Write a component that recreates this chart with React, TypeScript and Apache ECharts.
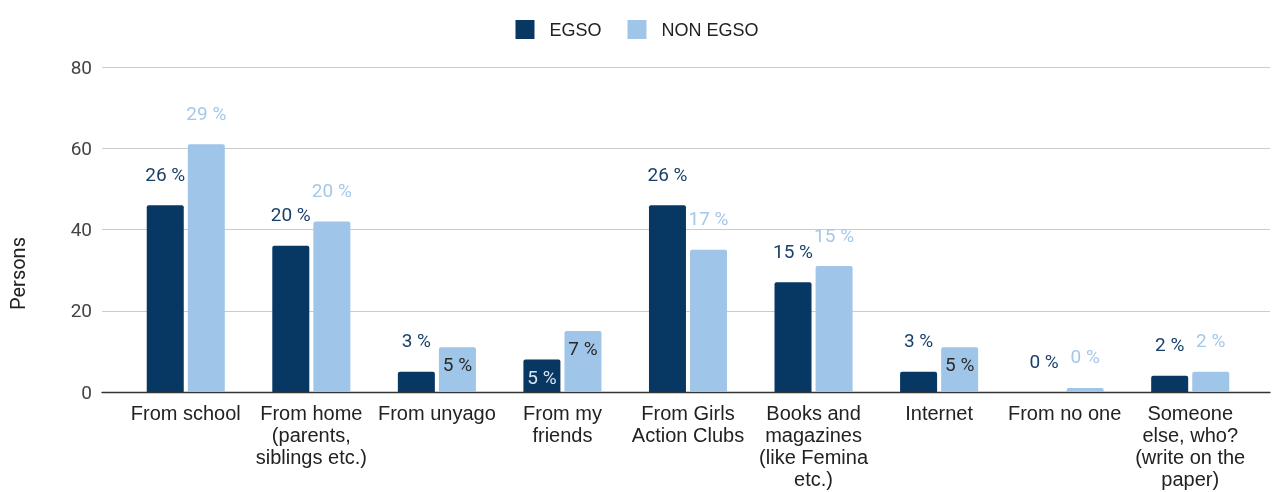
import React, { useEffect, useRef } from "react";
import * as echarts from "echarts";

const categories = [
  "From school",
  "From home\n(parents,\nsiblings etc.)",
  "From unyago",
  "From my\nfriends",
  "From Girls\nAction Clubs",
  "Books and\nmagazines\n(like Femina\netc.)",
  "Internet",
  "From no one",
  "Someone\nelse, who?\n(write on the\npaper)",
];
const egsoValues = [46, 36, 5, 8, 46, 27, 5, 0, 4];
const nonEgsoValues = [61, 42, 11, 15, 35, 31, 11, 1, 5];
const egsoLabels = ["26 %", "20 %", "3 %", "5 %", "26 %", "15 %", "3 %", "0 %", "2 %"];
const nonEgsoLabels = ["29 %", "20 %", "5 %", "7 %", "17 %", "15 %", "5 %", "0 %", "2 %"];
const yTicks = { min: 0, max: 80, interval: 20 };

// label placement (Google-style collision handling)
const egsoInside = [3];
const nonEgsoInside = [2, 3, 6];

const DARK = "#073763";
const LIGHT = "#9fc5e8";

function buildData(values: number[], labels: string[], inside: number[], dark: boolean) {
  return values.map((v, i) => {
    const isIn = inside.includes(i);
    return {
      value: v,
      label: {
        show: true,
        formatter: labels[i],
        position: isIn ? "insideTop" : "top",
        distance: isIn ? 8 : 21.5,
        color: isIn ? (dark ? "#dde5ee" : "#2a2a2a") : dark ? "#17406a" : "#a4c8ea",
        fontFamily: "Roboto",
        fontSize: 19,
      },
    };
  });
}

export default function App() {
  const ref = useRef<HTMLDivElement>(null);
  useEffect(() => {
    if (!ref.current) return;
    const chart = echarts.init(ref.current, null, { renderer: "svg" });
    chart.setOption({
      animation: false,
      legend: {
        top: 15,
        left: "center",
        itemWidth: 19,
        itemHeight: 19,
        itemGap: 26,
        icon: "rect",
        textStyle: {
          fontFamily: "Liberation Sans, Arial",
          fontSize: 18,
          color: "#222",
          padding: [0, 0, 0, 10],
        },
        data: ["EGSO", "NON EGSO"],
      },
      grid: [
        { left: 102, right: 4, top: 67, bottom: 100 },
        { left: 123, right: 21, top: 67, bottom: 100 },
      ],
      xAxis: [
        {
          gridIndex: 0,
          type: "category",
          data: [""],
          axisLine: { show: true, lineStyle: { color: "#333", width: 1.3 } },
          axisTick: { show: false },
          axisLabel: { show: false },
        },
        {
          gridIndex: 1,
          type: "category",
          data: categories,
          axisLine: { show: false },
          axisTick: { show: false },
          axisLabel: {
            interval: 0,
            margin: 9.5,
            fontFamily: "Liberation Sans, Arial",
            fontSize: 20,
            color: "#222",
            lineHeight: 22,
          },
        },
      ],
      yAxis: [
        {
          gridIndex: 0,
          type: "value",
          min: yTicks.min,
          max: yTicks.max,
          interval: yTicks.interval,
          name: "Persons",
          nameLocation: "middle",
          nameGap: 74,
          nameTextStyle: {
            fontFamily: "Roboto",
            fontSize: 20,
            color: "#222",
            padding: [0, 88, 0, 0],
          },
          axisLine: { show: false },
          axisTick: { show: false },
          axisLabel: { fontFamily: "Roboto", fontSize: 19, color: "#444", margin: 10 },
          splitLine: { lineStyle: { color: "#cccccc", width: 1 } },
        },
        {
          gridIndex: 1,
          type: "value",
          min: yTicks.min,
          max: yTicks.max,
          interval: yTicks.interval,
          show: false,
          splitLine: { show: false },
        },
      ],
      series: [
        {
          name: "EGSO",
          type: "bar",
          xAxisIndex: 1,
          yAxisIndex: 1,
          barWidth: 37,
          barGap: "11%",
          itemStyle: { color: DARK, borderRadius: [2, 2, 0, 0] },
          data: buildData(egsoValues, egsoLabels, egsoInside, true),
        },
        {
          name: "NON EGSO",
          type: "bar",
          xAxisIndex: 1,
          yAxisIndex: 1,
          barWidth: 37,
          itemStyle: { color: LIGHT, borderRadius: [2, 2, 0, 0] },
          data: buildData(nonEgsoValues, nonEgsoLabels, nonEgsoInside, false),
        },
      ],
    });
    return () => chart.dispose();
  }, []);
  return (
    <div
      ref={ref}
      style={{ position: "fixed", left: 0, top: 0, width: 1274, height: 492 }}
    />
  );
}
